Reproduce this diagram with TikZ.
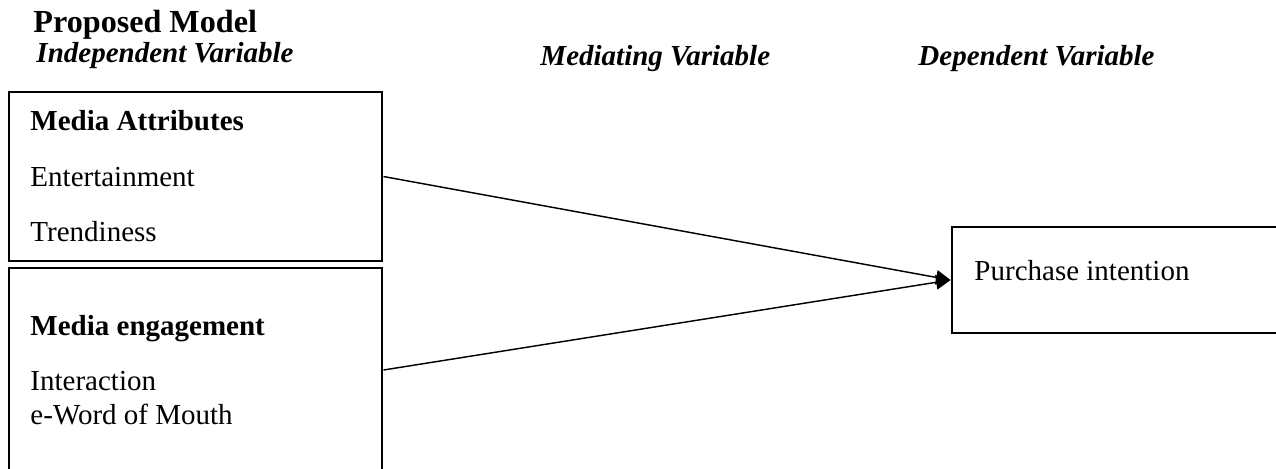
\documentclass[tikz,border=0pt]{standalone}
\usepackage{fontspec}
\setmainfont{Liberation Serif}
\usetikzlibrary{arrows.meta,fit}

\begin{document}
\begin{tikzpicture}[x=0.4138pt,y=-0.4138pt,
  box/.style={draw,line width=1.2pt,inner sep=0pt},
  lbl/.style={anchor=base west,inner sep=0pt,font=\fontsize{12}{14}\selectfont},
  hdr/.style={lbl,font=\fontsize{12}{14}\selectfont\bfseries\itshape},
  arr/.style={-{Triangle[length=6pt,width=6pt]},line width=0.6pt}]
  \useasboundingbox (0,0) rectangle (1276,468);
  \node[lbl,font=\fontsize{13.3}{16}\selectfont\bfseries] (title) at (33,32) {Proposed Model};
  \foreach \nm/\x/\y/\t in {indep/36/62/Independent Variable,med/540/65/Mediating Variable,dep/918/65/Dependent Variable}{\node[hdr] (\nm) at (\x,\y) {\t};}
  \node[box,fit={(9,92) (382,261)}] (attr) {};
  \node[box,fit={(9,268) (382,472)}] (eng) {};
  \node[box,fit={(952,227) (1292,333)}] (pur) {};
  \node[lbl,font=\fontsize{12}{14}\selectfont\bfseries] (attrhd) at (30,130) {Media Attributes};
  \node[lbl] (ent) at (30,186) {Entertainment};
  \node[lbl] (trend) at (30,241) {Trendiness};
  \node[lbl,font=\fontsize{12}{14}\selectfont\bfseries] (enghd) at (30,335) {Media engagement};
  \node[lbl] (inter) at (30,390) {Interaction};
  \node[lbl] (ewom) at (30,424) {e-Word of Mouth};
  \node[lbl] (purtx) at (974,280) {Purchase intention};
  \draw[arr] (attr.east) -- (pur.west);
  \draw[arr] (eng.east) -- (pur.west);
\end{tikzpicture}
\end{document}
